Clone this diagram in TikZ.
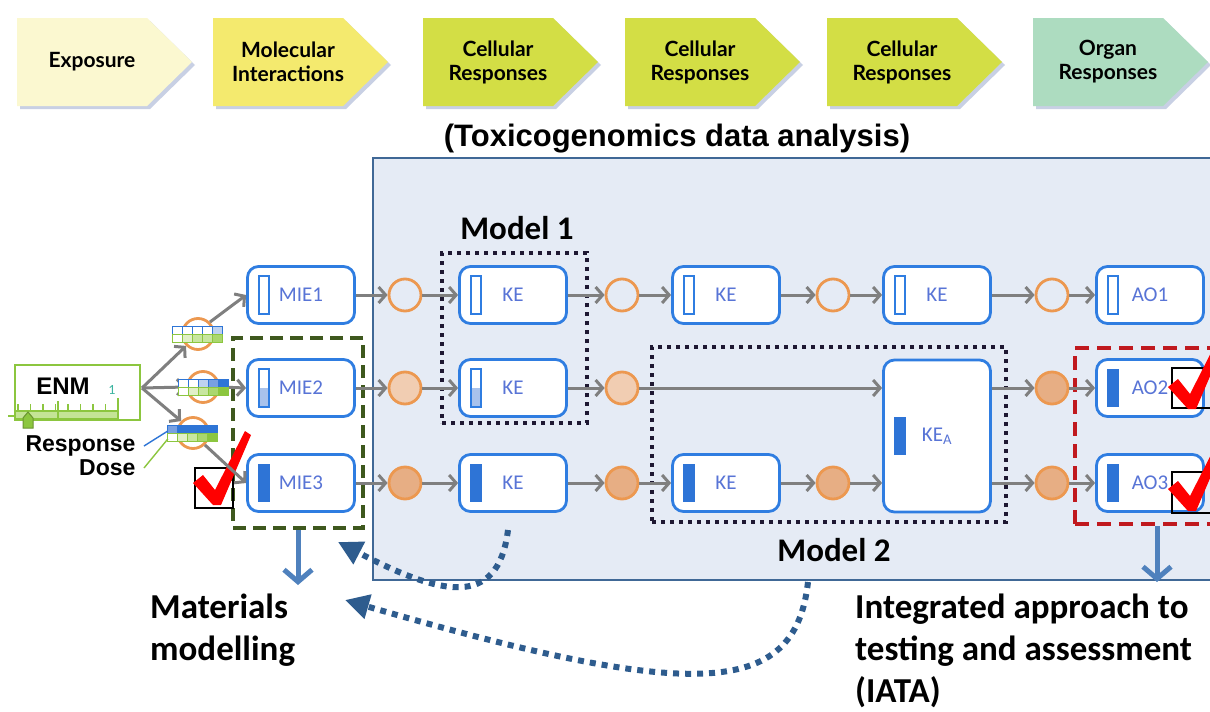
\documentclass[tikz,border=0pt]{standalone}
\usepackage{fontspec}
\setmainfont{Carlito}
\newfontfamily\arialfont{Liberation Sans}
\newfontfamily\gillfont{Lato}
\usetikzlibrary{arrows.meta}
\definecolor{EvBlue}{RGB}{47,125,225}
\definecolor{BarBlue}{RGB}{46,116,214}
\definecolor{BarLight}{RGB}{168,194,236}
\definecolor{EvText}{RGB}{88,116,214}
\definecolor{PanelFill}{RGB}{229,235,245}
\definecolor{PanelLine}{RGB}{64,104,150}
\definecolor{ArrGray}{RGB}{127,127,127}
\definecolor{HubLine}{RGB}{236,152,80}
\definecolor{HubFill}{RGB}{231,174,132}
\definecolor{HubLight}{RGB}{241,205,178}
\definecolor{ModelDot}{RGB}{30,24,50}
\definecolor{MatGreen}{RGB}{62,88,30}
\definecolor{IataRed}{RGB}{192,25,30}
\definecolor{DownBlue}{RGB}{79,129,189}
\definecolor{LoopBlue}{RGB}{46,92,142}
\definecolor{EnmGreen}{RGB}{140,198,63}
\definecolor{EnmLight}{RGB}{196,228,150}
\definecolor{EnmOne}{RGB}{60,180,160}
\definecolor{StripBlue}{RGB}{46,117,214}
\definecolor{B1}{RGB}{190,210,240}
\definecolor{B2}{RGB}{120,160,225}
\definecolor{B3}{RGB}{46,117,214}
\definecolor{G1}{RGB}{225,240,200}
\definecolor{G2}{RGB}{200,230,160}
\definecolor{G3}{RGB}{170,215,110}
\definecolor{G4}{RGB}{140,198,63}
\definecolor{ChevExp}{RGB}{251,248,208}
\definecolor{ChevMol}{RGB}{244,234,110}
\definecolor{ChevCell}{RGB}{211,222,69}
\definecolor{ChevOrg}{RGB}{173,220,192}
\definecolor{ChevShadow}{RGB}{200,208,228}

\tikzset{
  chevtxt/.style={font=\gillfont\bfseries\fontsize{21}{24}\selectfont, align=center, text=black},
  paneltitle/.style={font=\arialfont\bfseries\fontsize{31}{36}\selectfont},
  evbox/.style={draw=EvBlue, line width=2.8pt, rounded corners=11pt, fill=white,
    minimum width=107pt, minimum height=57pt, text=EvText, font=\fontsize{21}{24}\selectfont},
  hub/.style={circle, draw=HubLine, line width=2.8pt, minimum size=32pt, inner sep=0pt},
  flow/.style={draw=ArrGray, line width=3pt, -{Straight Barb[length=7pt,width=16pt]}},
  modelbox/.style={draw=ModelDot, line width=4pt, dash pattern=on 4pt off 5pt},
  modellbl/.style={font=\bfseries\fontsize{33}{36}\selectfont},
  feedback/.style={draw=LoopBlue, line width=6pt, dash pattern=on 6pt off 6pt,
    -{Triangle[length=24pt,width=24pt]}},
  downarr/.style={draw=DownBlue, line width=5pt, -{Straight Barb[length=12pt,width=28pt]}},
  bigtxt/.style={font=\bfseries\fontsize{35}{42}\selectfont, align=left, inner sep=0pt},
  strip/.style={minimum width=50pt, minimum height=16pt, inner sep=0pt},
  tickbox/.style={draw=black, line width=2.5pt, inner sep=0pt},
  redtick/.pic={\fill[red] (-24,-20) -- (-14,-28) -- (-2,-13) -- (28,-72) -- (34,-68) -- (4,2) -- (-4,2) -- cycle;}
}

\newcommand{\chevron}[4]{%
  \fill[ChevShadow] (#2+3,21) -- ++(130,0) -- ++(45,44) -- ++(-45,44) -- ++(-130,0) -- cycle;
  \fill[#3] (#2,18) -- ++(130,0) -- ++(45,44) -- ++(-45,44) -- ++(-130,0) -- cycle;
  \node[chevtxt] (#1) at (#2+75,62) {#4};}
\newcommand{\emptybar}[1]{\draw[EvBlue, line width=1.6pt, fill=white] ([xshift=13pt,yshift=19pt]#1.west) rectangle ++(10,38);}
\newcommand{\halfbar}[1]{\fill[BarLight] ([xshift=13pt]#1.west) rectangle ++(10,19);
  \draw[EvBlue, line width=1.6pt] ([xshift=13pt,yshift=19pt]#1.west) rectangle ++(10,38);}
\newcommand{\fullbar}[1]{\fill[BarBlue] ([xshift=12pt,yshift=19pt]#1.west) rectangle ++(12,38);}
\newcommand{\heatstrip}[3]{%
  \begin{scope}[shift={(#1.north west)}]
    \foreach \f [count=\i from 0] in {#2} \draw[StripBlue, line width=1.2pt, fill=\f] (10*\i,0) rectangle ++(10,8);
    \foreach \f [count=\i from 0] in {#3} \draw[EnmGreen, line width=1.2pt, fill=\f] (10*\i,8) rectangle ++(10,8);
  \end{scope}}

\begin{document}
\begin{tikzpicture}[x=1pt,y=-1pt]
\useasboundingbox (0,0) rectangle (1210,712);
\clip (0,0) rectangle (1210,712);
\fill[white] (0,0) rectangle (1210,712);

\chevron{exposure}{17}{ChevExp}{Exposure}
\chevron{molecular}{213}{ChevMol}{Molecular\\Interactions}
\chevron{cellA}{423}{ChevCell}{Cellular\\Responses}
\chevron{cellB}{625}{ChevCell}{Cellular\\Responses}
\chevron{cellC}{827}{ChevCell}{Cellular\\Responses}
\chevron{organ}{1033}{ChevOrg}{Organ\\Responses}

\node[paneltitle] (title) at (677,139) {(Toxicogenomics data analysis)};
\draw[PanelLine, line width=2.2pt, fill=PanelFill] (373,158) rectangle (1240,580);

\node[modelbox, minimum width=145pt, minimum height=170pt] (model1) at (514.5,338) {};
\node[modelbox, minimum width=354pt, minimum height=175pt] (model2) at (829,434.5) {};
\node[modellbl] (m1lbl) at (517,228) {Model 1};
\node[modellbl] (m2lbl) at (834,550) {Model 2};
\node[draw=MatGreen, line width=3.5pt, dash pattern=on 13pt off 7pt, minimum width=130pt, minimum height=190pt] (matbox) at (298,433) {};
\node[draw=IataRed, line width=4pt, dash pattern=on 14pt off 8pt, minimum width=150pt, minimum height=176pt] (iatabox) at (1150,436) {};

\node[evbox] (mie1) at (301,295) {MIE1};
\node[evbox] (ke11) at (513,295) {KE};
\node[evbox] (ke12) at (726,295) {KE};
\node[evbox] (ke13) at (937,295) {KE};
\node[evbox] (ao1) at (1150,295) {AO1};
\node[evbox] (mie2) at (301,388) {MIE2};
\node[evbox] (ke21) at (513,388) {KE};
\node[evbox] (ao2) at (1150,388) {AO2};
\node[evbox] (mie3) at (301,483) {MIE3};
\node[evbox] (ke31) at (513,483) {KE};
\node[evbox] (ke32) at (726,483) {KE};
\node[evbox] (ao3) at (1150,483) {AO3};
\node[evbox, minimum height=152pt] (kea) at (937,436) {KE\textsubscript{A}};

\emptybar{mie1} \emptybar{ke11} \emptybar{ke12} \emptybar{ke13} \emptybar{ao1}
\halfbar{mie2} \halfbar{ke21}
\fullbar{mie3} \fullbar{ke31} \fullbar{ke32} \fullbar{kea} \fullbar{ao2} \fullbar{ao3}

\node[hub, fill=PanelFill] (c11) at (405,295) {};
\node[hub, fill=PanelFill] (c12) at (622,295) {};
\node[hub, fill=PanelFill] (c13) at (833,295) {};
\node[hub, fill=PanelFill] (c14) at (1052,295) {};
\node[hub, fill=HubLight] (c21) at (405,388) {};
\node[hub, fill=HubLight] (c22) at (622,388) {};
\node[hub, fill=HubFill] (c23) at (1052,388) {};
\node[hub, fill=HubFill] (c31) at (405,483) {};
\node[hub, fill=HubFill] (c32) at (622,483) {};
\node[hub, fill=HubFill] (c33) at (833,483) {};
\node[hub, fill=HubFill] (c34) at (1052,483) {};

\draw[flow] (mie1) -- (c11);
\draw[flow] (c11) -- (ke11);
\draw[flow] (ke11) -- (c12);
\draw[flow] (c12) -- (ke12);
\draw[flow] (ke12) -- (c13);
\draw[flow] (c13) -- (ke13);
\draw[flow] (ke13) -- (c14);
\draw[flow] (c14) -- (ao1);
\draw[flow] (mie2) -- (c21);
\draw[flow] (c21) -- (ke21);
\draw[flow] (ke21) -- (c22);
\draw[flow] (c22) -- (c22 -| kea.west);
\draw[flow] (kea.east |- c23) -- (c23);
\draw[flow] (c23) -- (ao2);
\draw[flow] (mie3) -- (c31);
\draw[flow] (c31) -- (ke31);
\draw[flow] (ke31) -- (c32);
\draw[flow] (c32) -- (ke32);
\draw[flow] (ke32) -- (c33);
\draw[flow] (c33) -- (c33 -| kea.west);
\draw[flow] (kea.east |- c34) -- (c34);
\draw[flow] (c34) -- (ao3);

\node[tickbox, minimum width=38pt, minimum height=40pt] (tickmie) at (214,488) {};
\node[tickbox, minimum width=44pt, minimum height=40pt] (tickao2) at (1194,388) {};
\node[tickbox, minimum width=44pt, minimum height=41pt] (tickao3) at (1194,492.5) {};
\pic at (217,503) {redtick};
\pic at (1192,407) {redtick};
\pic at (1192,509) {redtick};

\node[draw=EnmGreen, line width=2.4pt, minimum width=125pt, minimum height=55pt] (enm) at (77.5,392.5) {};
\node[font=\arialfont\bfseries\fontsize{24}{26}\selectfont] (enmtxt) at (63,386) {ENM};
\node[font=\fontsize{14}{16}\selectfont, text=EnmOne] (enmone) at (112,390) {1};
\draw[EnmGreen, line width=1.5pt] (8,416) -- (15,416);
\draw[EnmGreen, line width=1.5pt, fill=EnmLight] (15,411) rectangle (118,419);
\foreach \t in {18,30.5,...,118} \draw[EnmGreen, line width=1.4pt] (\t,404) -- (\t,411);
\draw[EnmGreen, line width=1.4pt] (58,401) -- (58,419);
\draw[EnmGreen, line width=1.4pt] (118,398) -- (118,411);
\filldraw[fill=EnmGreen, draw=EnmGreen!75!black, line width=1pt] (23,428) -- (23,418) -- (28,412) -- (33,418) -- (33,428) -- cycle;

\coordinate (fork) at (142,388);
\node[hub, fill=white, minimum size=31pt] (h1) at (198,334) {};
\node[hub, fill=white, minimum size=31pt] (h2) at (203,387) {};
\node[hub, fill=white, minimum size=31pt] (h3) at (193,433) {};
\draw[flow] (fork) -- (h1.south west);
\draw[flow] (h1.north east) -- (mie1.west);
\draw[flow] (fork) -- (h2.west);
\draw[flow] (h2.east) -- (mie2.west);
\draw[flow] (fork) -- (h3.north west);
\draw[flow] (h3.south east) -- (mie3.west);
\node[strip] (s1) at (198,335) {};
\node[strip] (s2) at (204,388) {};
\node[strip] (s3) at (193,434) {};
\heatstrip{s1}{white,white,white,white,B1}{white,G1,G2,G2,G3}
\heatstrip{s2}{white,white,B1,B2,B3}{white,G1,G2,G3,G4}
\heatstrip{s3}{B2,B3,B3,B3,B3}{white,G1,G2,G3,G4}

\node[font=\arialfont\bfseries\fontsize{23}{26}\selectfont, anchor=east] (resp) at (139,446) {Response};
\node[font=\arialfont\bfseries\fontsize{23}{26}\selectfont, anchor=east] (dose) at (139,468) {Dose};
\draw[StripBlue, line width=1.4pt] ([xshift=5pt]resp.east) -- ([yshift=3pt]s3.west);
\draw[EnmGreen, line width=1.4pt] ([xshift=5pt]dose.east) -- ([yshift=-5pt]s3.west);

\coordinate (matend) at (298,585);
\coordinate (iataend) at (1157,582);
\draw[downarr] (matbox.south) -- (matend);
\draw[downarr] (iatabox.south -| iataend) -- (iataend);

\coordinate (loopA) at (508,530);
\coordinate (loopB) at (808,582);
\coordinate (matinA) at (338,542);
\coordinate (matinB) at (345,600);
\draw[feedback] (loopA) .. controls (498,610) and (440,595) .. (matinA);
\draw[feedback] (loopB) .. controls (795,700) and (690,700) .. (matinB);

\node[bigtxt, anchor=north west] (matlbl) at (150,594) {Materials\\modelling};
\node[bigtxt, anchor=north west] (iatalbl) at (855,594) {Integrated approach to\\testing and assessment\\(IATA)};
\end{tikzpicture}
\end{document}
